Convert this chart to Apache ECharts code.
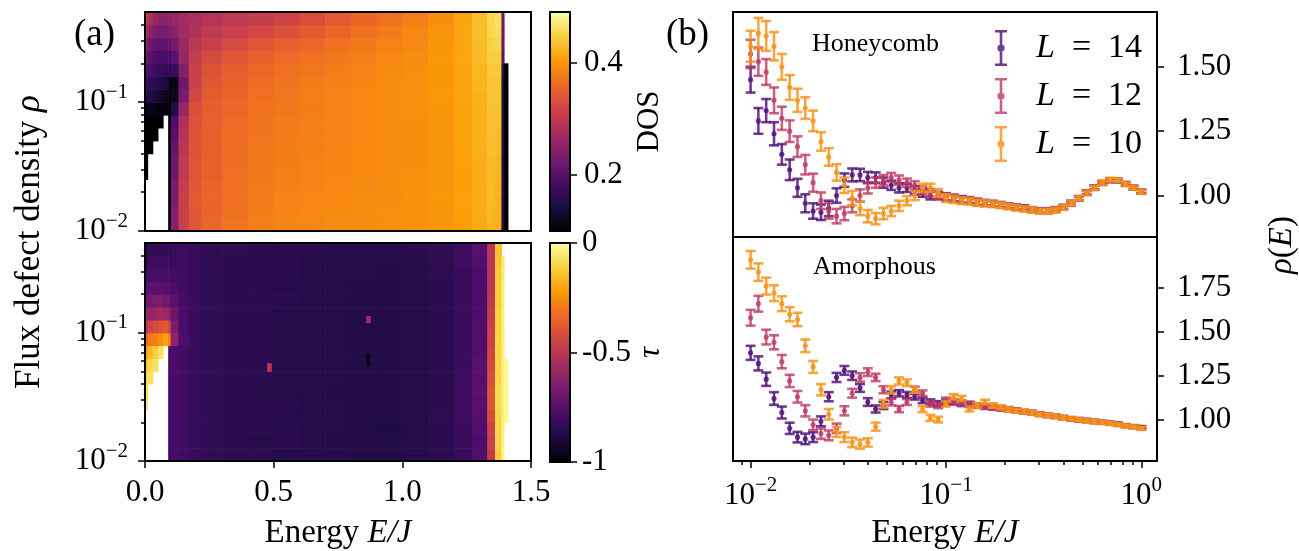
<!DOCTYPE html>
<html>
<head>
<meta charset="utf-8">
<script src="https://cdn.jsdelivr.net/npm/echarts@6/dist/echarts.min.js"></script>
<style>
  html, body { margin: 0; background: #fff; }
  #chart { width: 1299px; height: 551px; }
</style>
</head>
<body>
<div id="chart"></div>
<script>
const _ = null;

// ---- panel (a): heat maps, cells are [E bin] x [rho bin] ----
const energyEdges = [0, 0.01, 0.03, 0.05, 0.07, 0.09, 0.1, 0.13, 0.17, 0.22, 0.3, 0.4, 0.5, 0.6, 0.7, 0.8, 0.9, 1.0, 1.1, 1.2, 1.27, 1.33, 1.36, 1.385, 1.395, 1.41];
const rhoEdges = [0.01, 0.0126, 0.0158, 0.02, 0.0251, 0.0316, 0.0398, 0.0501, 0.0631, 0.0794, 0.1, 0.126, 0.158, 0.2, 0.251, 0.316, 0.398, 0.5];

// rows from low rho (bottom) to high rho (top), null = no data (white)
const dosGrid = [
  [_, _, _, _, _, 0.1, 0.24, 0.31, 0.34, 0.355, 0.37, 0.38, 0.385, 0.385, 0.39, 0.39, 0.392, 0.395, 0.398, 0.405, 0.415, 0.425, 0.42, 0.15, 0.1],
  [_, _, _, _, _, 0.1, 0.24, 0.31, 0.34, 0.355, 0.365, 0.378, 0.383, 0.386, 0.388, 0.39, 0.393, 0.394, 0.398, 0.406, 0.416, 0.426, 0.42, 0.15, 0.1],
  [_, _, _, _, _, 0.1, 0.23, 0.31, 0.342, 0.355, 0.366, 0.376, 0.384, 0.384, 0.387, 0.39, 0.39, 0.395, 0.4, 0.407, 0.416, 0.428, 0.422, 0.15, 0.1],
  [_, _, _, _, _, 0.1, 0.23, 0.305, 0.34, 0.354, 0.365, 0.375, 0.38, 0.383, 0.386, 0.388, 0.392, 0.393, 0.398, 0.406, 0.417, 0.428, 0.422, 0.15, 0.1],
  [0.1, _, _, _, _, 0.1, 0.22, 0.3, 0.338, 0.352, 0.364, 0.374, 0.38, 0.382, 0.385, 0.387, 0.39, 0.393, 0.398, 0.406, 0.418, 0.43, 0.424, 0.15, 0.1],
  [0.1, _, _, _, _, 0.1, 0.22, 0.3, 0.336, 0.352, 0.363, 0.372, 0.378, 0.382, 0.384, 0.387, 0.39, 0.392, 0.398, 0.407, 0.418, 0.43, 0.425, 0.15, 0.1],
  [0.1, 0.1, _, _, _, 0.1, 0.21, 0.295, 0.335, 0.35, 0.362, 0.372, 0.378, 0.38, 0.384, 0.386, 0.39, 0.392, 0.398, 0.407, 0.42, 0.432, 0.428, 0.15, 0.1],
  [0.1, 0.1, 0.1, _, _, 0.1, 0.2, 0.29, 0.334, 0.35, 0.362, 0.37, 0.376, 0.38, 0.383, 0.386, 0.39, 0.392, 0.398, 0.408, 0.42, 0.433, 0.43, 0.15, 0.1],
  [0.1, 0.1, 0.1, 0.1, _, 0.1, 0.19, 0.285, 0.333, 0.35, 0.36, 0.37, 0.376, 0.38, 0.383, 0.386, 0.39, 0.392, 0.398, 0.408, 0.42, 0.434, 0.432, 0.15, 0.1],
  [0.12, 0.115, 0.11, 0.105, 0.105, 0.1, 0.15, 0.26, 0.33, 0.348, 0.358, 0.368, 0.374, 0.378, 0.382, 0.386, 0.39, 0.393, 0.398, 0.408, 0.42, 0.435, 0.434, 0.15, 0.1],
  [0.16, 0.15, 0.14, 0.13, 0.12, 0.11, 0.12, 0.23, 0.32, 0.345, 0.356, 0.366, 0.372, 0.378, 0.382, 0.386, 0.39, 0.393, 0.4, 0.41, 0.422, 0.436, 0.436, 0.15, 0.1],
  [0.18, 0.165, 0.155, 0.15, 0.14, 0.11, 0.11, 0.22, 0.31, 0.34, 0.352, 0.362, 0.37, 0.376, 0.38, 0.385, 0.39, 0.393, 0.4, 0.41, 0.424, 0.438, 0.438, 0.15, 0.1],
  [0.2, 0.185, 0.175, 0.17, 0.165, 0.16, 0.17, 0.24, 0.31, 0.335, 0.348, 0.358, 0.366, 0.372, 0.378, 0.383, 0.388, 0.392, 0.4, 0.41, 0.425, 0.44, 0.44, 0.16, 0.1],
  [0.22, 0.2, 0.19, 0.185, 0.185, 0.185, 0.2, 0.26, 0.305, 0.325, 0.338, 0.35, 0.36, 0.366, 0.373, 0.38, 0.386, 0.39, 0.4, 0.412, 0.428, 0.444, 0.446, 0.2, _],
  [0.25, 0.22, 0.21, 0.205, 0.205, 0.21, 0.225, 0.265, 0.295, 0.31, 0.325, 0.338, 0.35, 0.358, 0.366, 0.374, 0.382, 0.388, 0.398, 0.412, 0.43, 0.448, 0.452, 0.22, _],
  [0.29, 0.25, 0.235, 0.23, 0.23, 0.235, 0.245, 0.27, 0.285, 0.3, 0.31, 0.32, 0.332, 0.345, 0.356, 0.366, 0.376, 0.385, 0.396, 0.412, 0.432, 0.452, 0.458, 0.22, _],
  [0.31, 0.28, 0.26, 0.25, 0.25, 0.25, 0.26, 0.27, 0.28, 0.29, 0.298, 0.306, 0.316, 0.328, 0.342, 0.356, 0.368, 0.38, 0.392, 0.41, 0.432, 0.455, 0.462, 0.22, _]
];

const tauGrid = [
  [_, _, _, _, _, -0.8, -0.78, -0.8, -0.82, -0.84, -0.85, -0.85, -0.86, -0.86, -0.86, -0.87, -0.87, -0.86, -0.85, -0.82, -0.76, -0.48, -0.12, -0.03, _],
  [_, _, _, _, _, -0.8, -0.78, -0.8, -0.82, -0.84, -0.85, -0.86, -0.85, -0.86, -0.87, -0.87, -0.87, -0.86, -0.85, -0.82, -0.77, -0.46, -0.1, -0.03, _],
  [_, _, _, _, _, -0.8, -0.78, -0.8, -0.83, -0.84, -0.85, -0.85, -0.85, -0.86, -0.86, -0.87, -0.88, -0.86, -0.85, -0.82, -0.76, -0.45, -0.1, -0.04, _],
  [_, _, _, _, _, -0.8, -0.78, -0.8, -0.82, -0.84, -0.85, -0.85, -0.86, -0.86, -0.86, -0.87, -0.87, -0.86, -0.84, -0.81, -0.75, -0.42, -0.1, -0.04, -0.02],
  [-0.06, _, _, _, _, -0.8, -0.78, -0.8, -0.82, -0.84, -0.85, -0.85, -0.85, -0.86, -0.86, -0.87, -0.87, -0.86, -0.85, -0.81, -0.75, -0.4, -0.09, -0.04, -0.02],
  [-0.07, _, _, _, _, -0.8, -0.78, -0.8, -0.82, -0.84, -0.85, -0.86, -0.86, -0.86, -0.87, -0.87, -0.87, -0.86, -0.85, -0.81, -0.74, -0.4, -0.09, -0.04, -0.02],
  [-0.09, -0.07, _, _, _, -0.8, -0.78, -0.8, -0.82, -0.84, -0.85, -0.85, -0.86, -0.86, -0.86, -0.87, -0.87, -0.86, -0.85, -0.81, -0.75, -0.42, -0.1, -0.04, -0.02],
  [-0.13, -0.09, -0.07, _, _, -0.79, -0.78, -0.8, -0.82, -0.84, -0.85, -0.85, -0.86, -0.86, -0.86, -0.87, -0.87, -0.86, -0.85, -0.82, -0.75, -0.43, -0.1, -0.04, -0.02],
  [-0.22, -0.16, -0.11, -0.07, _, -0.78, -0.78, -0.8, -0.82, -0.84, -0.85, -0.85, -0.86, -0.86, -0.86, -0.87, -0.87, -0.86, -0.85, -0.82, -0.76, -0.44, -0.1, -0.04, _],
  [-0.35, -0.3, -0.28, -0.25, -0.2, -0.3, -0.62, -0.77, -0.82, -0.84, -0.85, -0.85, -0.86, -0.86, -0.86, -0.87, -0.87, -0.86, -0.85, -0.82, -0.76, -0.45, -0.1, -0.04, _],
  [-0.5, -0.45, -0.42, -0.4, -0.38, -0.45, -0.66, -0.78, -0.82, -0.84, -0.85, -0.85, -0.86, -0.86, -0.86, -0.87, -0.87, -0.86, -0.85, -0.82, -0.76, -0.46, -0.11, -0.04, _],
  [-0.6, -0.6, -0.58, -0.56, -0.58, -0.62, -0.7, -0.78, -0.82, -0.84, -0.85, -0.85, -0.86, -0.86, -0.86, -0.87, -0.87, -0.86, -0.85, -0.82, -0.77, -0.47, -0.11, -0.04, _],
  [-0.7, -0.68, -0.66, -0.66, -0.68, -0.7, -0.74, -0.79, -0.82, -0.84, -0.85, -0.85, -0.85, -0.86, -0.86, -0.87, -0.87, -0.86, -0.85, -0.82, -0.77, -0.48, -0.12, -0.04, _],
  [-0.76, -0.74, -0.74, -0.74, -0.75, -0.76, -0.77, -0.8, -0.82, -0.84, -0.85, -0.85, -0.86, -0.86, -0.86, -0.87, -0.87, -0.86, -0.85, -0.82, -0.77, -0.5, -0.12, -0.04, _],
  [-0.8, -0.79, -0.78, -0.78, -0.78, -0.79, -0.79, -0.8, -0.82, -0.84, -0.85, -0.85, -0.85, -0.86, -0.86, -0.86, -0.87, -0.86, -0.84, -0.82, -0.77, -0.5, -0.12, -0.05, _],
  [-0.84, -0.81, -0.81, -0.81, -0.81, -0.81, -0.81, -0.81, -0.82, -0.84, -0.85, -0.85, -0.85, -0.86, -0.86, -0.86, -0.86, -0.86, -0.84, -0.81, -0.76, -0.5, -0.13, -0.05, _],
  [-0.86, -0.84, -0.84, -0.84, -0.84, -0.84, -0.82, -0.81, -0.82, -0.84, -0.84, -0.85, -0.85, -0.85, -0.86, -0.86, -0.86, -0.85, -0.84, -0.81, -0.75, -0.5, -0.14, _, _]
];

// isolated outlier pixels in the tau map: [E0, E1, rho0, rho1, tau]
const tauSpots = [
  [0.475, 0.49, 0.05, 0.058, -0.5],
  [0.86, 0.875, 0.12, 0.135, -0.55],
  [0.86, 0.872, 0.056, 0.068, -0.97]
];

const dosRange = [0.1, 0.49];
const tauRange = [-1, 0];
const dosTicks = [0.2, 0.4];
const tauTicks = [-1, -0.5, 0];
const rhoRange = [0.01, 0.5];
const rhoMajor = [0.01, 0.1];
const rhoMinor = [0.02, 0.03, 0.04, 0.05, 0.06, 0.07, 0.08, 0.09, 0.2, 0.3, 0.4];

// ---- panel (b): rho(E) with error bars ----
const energies = [0.01, 0.01096, 0.01202, 0.01318, 0.01445, 0.01585, 0.01738, 0.01905, 0.02089, 0.02291,
  0.02512, 0.02754, 0.0302, 0.03311, 0.03631, 0.03981, 0.04365, 0.04786, 0.05248, 0.05754,
  0.0631, 0.06918, 0.07586, 0.08318, 0.0912, 0.1, 0.1096, 0.1202, 0.1318, 0.1445,
  0.1585, 0.1738, 0.1905, 0.2089, 0.2291, 0.2512, 0.2754, 0.302, 0.3311, 0.3631,
  0.3981, 0.4365, 0.4786, 0.5248, 0.5754, 0.631, 0.6918, 0.7586, 0.8318, 0.912, 1.0];

const sizes = [14, 12, 10];

const honeyL14 = [1.45, 1.29, 1.33, 1.24, 1.16, 1.10, 1.03, 0.97, 0.94, 0.935, 0.95, 1.00, 1.06, 1.08, 1.08, 1.07, 1.07, 1.05, 1.04, 1.03,
  1.03, 1.02, 1.01, 1.00, 1.00, 0.995, 0.99, 0.985, 0.982, 0.975, 0.972, 0.968, 0.965, 0.96, 0.955, 0.952, 0.946, 0.942, 0.94, 0.946,
  0.956, 0.972, 0.99, 1.012, 1.032, 1.05, 1.06, 1.058, 1.045, 1.03, 1.015];
const honeyL12 = [1.55, 1.52, 1.48, 1.37, 1.30, 1.25, 1.19, 1.12, 1.05, 0.98, 0.94, 0.92, 0.93, 0.96, 1.00, 1.03, 1.05, 1.06, 1.07, 1.06,
  1.05, 1.04, 1.02, 1.01, 1.00, 0.995, 0.99, 0.984, 0.98, 0.976, 0.97, 0.968, 0.964, 0.958, 0.954, 0.95, 0.944, 0.94, 0.942, 0.945,
  0.954, 0.968, 0.988, 1.01, 1.03, 1.048, 1.058, 1.06, 1.046, 1.032, 1.016];
const honeyL10 = [1.58, 1.63, 1.62, 1.58, 1.50, 1.42, 1.37, 1.34, 1.29, 1.21, 1.15, 1.09, 1.04, 0.99, 0.95, 0.92, 0.91, 0.93, 0.94, 0.96,
  0.98, 1.00, 1.03, 1.03, 1.01, 0.99, 0.985, 0.98, 0.978, 0.972, 0.97, 0.966, 0.962, 0.958, 0.952, 0.948, 0.944, 0.94, 0.938, 0.944,
  0.954, 0.97, 0.99, 1.01, 1.03, 1.05, 1.062, 1.06, 1.044, 1.03, 1.014];

const honeyErr14 = [0.05, 0.05, 0.045, 0.045, 0.04, 0.04, 0.035, 0.035, 0.03, 0.03, 0.03, 0.028, 0.026, 0.025, 0.024, 0.022, 0.02, 0.02, 0.018, 0.018,
  0.016, 0.016, 0.015, 0.015, 0.014, 0.014, 0.013, 0.013, 0.012, 0.012, 0.011, 0.011, 0.01, 0.01, 0.01, 0.01, 0.009, 0.009, 0.009, 0.009,
  0.008, 0.008, 0.008, 0.008, 0.008, 0.007, 0.007, 0.007, 0.007, 0.007, 0.007];
const honeyErr12 = [0.055, 0.055, 0.05, 0.05, 0.045, 0.042, 0.04, 0.038, 0.035, 0.032, 0.03, 0.028, 0.026, 0.025, 0.024, 0.022, 0.02, 0.02, 0.018, 0.018,
  0.016, 0.016, 0.015, 0.015, 0.014, 0.014, 0.013, 0.013, 0.012, 0.012, 0.011, 0.011, 0.01, 0.01, 0.01, 0.01, 0.009, 0.009, 0.009, 0.009,
  0.008, 0.008, 0.008, 0.008, 0.008, 0.007, 0.007, 0.007, 0.007, 0.007, 0.007];
const honeyErr10 = [0.06, 0.06, 0.058, 0.055, 0.05, 0.048, 0.045, 0.042, 0.04, 0.036, 0.034, 0.032, 0.03, 0.028, 0.026, 0.024, 0.022, 0.022, 0.02, 0.02,
  0.018, 0.018, 0.016, 0.016, 0.015, 0.015, 0.014, 0.013, 0.013, 0.012, 0.012, 0.011, 0.011, 0.01, 0.01, 0.01, 0.01, 0.009, 0.009, 0.009,
  0.009, 0.008, 0.008, 0.008, 0.008, 0.008, 0.007, 0.007, 0.007, 0.007, 0.007];

const amorL14 = [1.38, 1.32, 1.23, 1.12, 1.04, 0.95, 0.90, 0.89, 0.90, 0.99, 1.13, 1.24, 1.28, 1.25, 1.18, 1.10, 1.06, 1.08, 1.14, 1.15,
  1.14, 1.13, 1.11, 1.10, 1.09, 1.10, 1.10, 1.09, 1.085, 1.08, 1.075, 1.07, 1.065, 1.06, 1.052, 1.045, 1.04, 1.032, 1.025, 1.02,
  1.012, 1.005, 1.0, 0.995, 0.99, 0.985, 0.98, 0.975, 0.966, 0.96, 0.955];
const amorL12 = [1.58, 1.66, 1.47, 1.44, 1.33, 1.22, 1.13, 1.05, 0.97, 0.92, 0.91, 0.95, 1.05, 1.15, 1.24, 1.27, 1.24, 1.17, 1.10, 1.06,
  1.10, 1.17, 1.15, 1.09, 1.08, 1.11, 1.10, 1.095, 1.09, 1.08, 1.072, 1.068, 1.062, 1.058, 1.05, 1.044, 1.038, 1.03, 1.024, 1.018,
  1.01, 1.004, 0.998, 0.994, 0.988, 0.984, 0.978, 0.972, 0.965, 0.96, 0.952];
const amorL10 = [1.91, 1.84, 1.76, 1.72, 1.66, 1.60, 1.57, 1.42, 1.30, 1.17, 1.03, 0.93, 0.90, 0.87, 0.86, 0.87, 0.96, 1.09, 1.17, 1.22,
  1.21, 1.17, 1.06, 1.01, 1.00, 1.09, 1.13, 1.12, 1.06, 1.08, 1.10, 1.08, 1.07, 1.058, 1.05, 1.046, 1.038, 1.03, 1.025, 1.02,
  1.01, 1.005, 1.0, 0.994, 0.99, 0.984, 0.978, 0.972, 0.964, 0.958, 0.95];

const amorErr14 = [0.04, 0.04, 0.038, 0.036, 0.034, 0.032, 0.03, 0.03, 0.028, 0.028, 0.026, 0.026, 0.025, 0.024, 0.022, 0.022, 0.02, 0.02, 0.019, 0.018,
  0.017, 0.016, 0.016, 0.015, 0.015, 0.014, 0.014, 0.013, 0.013, 0.012, 0.012, 0.012, 0.011, 0.011, 0.011, 0.01, 0.01, 0.01, 0.01, 0.01,
  0.009, 0.009, 0.009, 0.009, 0.009, 0.008, 0.008, 0.008, 0.008, 0.008, 0.008];
const amorErr12 = [0.045, 0.045, 0.042, 0.04, 0.038, 0.035, 0.033, 0.032, 0.03, 0.03, 0.028, 0.027, 0.026, 0.025, 0.024, 0.022, 0.021, 0.02, 0.019, 0.018,
  0.017, 0.017, 0.016, 0.016, 0.015, 0.015, 0.014, 0.014, 0.013, 0.013, 0.012, 0.012, 0.011, 0.011, 0.011, 0.01, 0.01, 0.01, 0.01, 0.01,
  0.009, 0.009, 0.009, 0.009, 0.009, 0.008, 0.008, 0.008, 0.008, 0.008, 0.008];
const amorErr10 = [0.05, 0.05, 0.048, 0.045, 0.042, 0.04, 0.038, 0.036, 0.034, 0.032, 0.03, 0.029, 0.028, 0.027, 0.026, 0.024, 0.023, 0.022, 0.021, 0.02,
  0.019, 0.018, 0.018, 0.017, 0.016, 0.016, 0.015, 0.015, 0.014, 0.014, 0.013, 0.013, 0.012, 0.012, 0.011, 0.011, 0.011, 0.01, 0.01, 0.01,
  0.01, 0.009, 0.009, 0.009, 0.009, 0.009, 0.008, 0.008, 0.008, 0.008, 0.008];

const energyMajor = [0.01, 0.1, 1];
const energyMinor = [0.009, 0.02, 0.03, 0.04, 0.05, 0.06, 0.07, 0.08, 0.09, 0.2, 0.3, 0.4, 0.5, 0.6, 0.7, 0.8, 0.9];
const energyRange = [0.008128, 1.2023];
const honeyRange = [0.839, 1.713];
const amorRange = [0.764, 2.04];
const honeyTicks = [1.0, 1.25, 1.5];
const amorTicks = [1.0, 1.25, 1.5, 1.75];

const inferno = ['#000004', '#1b0c41', '#4a0c6b', '#781c6d', '#a52c60', '#cf4446', '#ed6925', '#fb9b06', '#f7d13d', '#fcffa4'];
const lineColors = ['rgba(80, 18, 123, 0.82)', 'rgba(190, 55, 98, 0.78)', 'rgba(247, 146, 25, 0.82)'];

const FONT = '"Liberation Serif", "DejaVu Serif", serif';
const black = '#000';
const tickLine = { color: black, width: 1.5 };
const noLine = { show: false, onZero: false };

function cells(grid) {
  const out = [];
  grid.forEach((row, r) => {
    row.forEach((v, c) => {
      if (v !== null) out.push([energyEdges[c], energyEdges[c + 1], rhoEdges[r], rhoEdges[r + 1], v]);
    });
  });
  return out;
}

function renderCell(params, api) {
  const a = api.coord([api.value(0), api.value(2)]);
  const b = api.coord([api.value(1), api.value(3)]);
  return {
    type: 'rect',
    shape: { x: a[0], y: b[1], width: b[0] - a[0] + 0.6, height: a[1] - b[1] + 0.6 },
    style: { fill: api.visual('color') }
  };
}

function renderBar(params, api) {
  const a = api.coord([api.value(0), api.value(2)]);
  const b = api.coord([api.value(1), api.value(3)]);
  const stops = inferno.map((c, i) => ({ offset: i / (inferno.length - 1), color: c }));
  return {
    type: 'rect',
    shape: { x: a[0], y: b[1], width: b[0] - a[0], height: a[1] - b[1] },
    style: { fill: new echarts.graphic.LinearGradient(0, 1, 0, 0, stops) }
  };
}

function renderErrorBar(params, api) {
  const x = api.value(0);
  const y = api.value(1);
  const e = api.value(2);
  const hi = api.coord([x, y + e]);
  const lo = api.coord([x, y - e]);
  const mid = api.coord([x, y]);
  const color = api.visual('color');
  const s = { stroke: color, lineWidth: 2.6, fill: null };
  const hw = 5;
  return {
    type: 'group',
    children: [
      { type: 'line', shape: { x1: hi[0], y1: hi[1], x2: lo[0], y2: lo[1] }, style: s },
      { type: 'line', shape: { x1: hi[0] - hw, y1: hi[1], x2: hi[0] + hw, y2: hi[1] }, style: s },
      { type: 'line', shape: { x1: lo[0] - hw, y1: lo[1], x2: lo[0] + hw, y2: lo[1] }, style: s },
      { type: 'circle', shape: { cx: mid[0], cy: mid[1], r: 2.6 }, style: { fill: color } }
    ]
  };
}

function powLabel(v) {
  const e = Math.round(v);
  return '{b|10}{s|' + (e < 0 ? '\u2212' + (-e) : e) + '}';
}

const powRich = {
  b: { fontSize: 31, fontFamily: FONT, color: black },
  s: { fontSize: 21, fontFamily: FONT, color: black, padding: [0, 0, 20, 0] }
};
const nameRich = {
  r: { fontSize: 33, fontFamily: FONT, color: black },
  i: { fontSize: 33, fontFamily: FONT, color: black, fontStyle: 'italic' }
};
const flexRich = {
  r: { fontSize: 35, fontFamily: FONT, color: black },
  i: { fontSize: 35, fontFamily: FONT, color: black, fontStyle: 'italic' }
};

const hidden = { show: false };
const gridBox = { show: true, borderColor: black, borderWidth: 2, backgroundColor: 'transparent', z: 10 };

function hiddenAxis(grid, type, range) {
  return { gridIndex: grid, type: type, min: range[0], max: range[1], show: false, axisLine: noLine };
}
// tick/label axis in log10 units laid over a log data axis
function logTickAxis(grid, position, range, values, len, withLabels, extra) {
  return Object.assign({
    gridIndex: grid, type: 'value', position: position,
    min: Math.log10(range[0]), max: Math.log10(range[1]),
    axisLine: noLine, splitLine: hidden,
    axisTick: { customValues: values.map(Math.log10), length: len, lineStyle: tickLine },
    axisLabel: withLabels
      ? { customValues: values.map(Math.log10), formatter: powLabel, rich: powRich, margin: position === 'left' ? 17 : 14 }
      : { show: false }
  }, extra || {});
}
function valueTickAxis(grid, range, ticks, fmt, margin, extra) {
  return Object.assign({
    gridIndex: grid, type: 'value', position: 'right', min: range[0], max: range[1],
    axisLine: noLine, splitLine: hidden,
    axisTick: { customValues: ticks, length: 7, lineStyle: tickLine },
    axisLabel: { customValues: ticks, formatter: fmt, fontSize: 31, fontFamily: FONT, color: black, margin: margin }
  }, extra || {});
}

function errorSeries(name, color, xIdx, yIdx, vals, errs) {
  return {
    type: 'custom', name: name, xAxisIndex: xIdx, yAxisIndex: yIdx, silent: true,
    itemStyle: { color: color },
    encode: { x: 0, y: 1 },
    renderItem: renderErrorBar,
    data: energies.map((x, i) => [x, vals[i], errs[i]])
  };
}

const names = sizes.map(s => 'L' + s);
const honey = [honeyL14, honeyL12, honeyL10];
const honeyErr = [honeyErr14, honeyErr12, honeyErr10];
const amor = [amorL14, amorL12, amorL10];
const amorErr = [amorErr14, amorErr12, amorErr10];

const errorIcon = 'path://M0,0H12V2.6H0Z M4.7,0H7.3V36H4.7Z M0,33.4H12V36H0Z M6,14.4A3.6,3.6,0,1,1,5.99,14.4Z';
const energyName = {
  name: '{r|Energy }{i|E/J}', nameLocation: 'middle', nameGap: 56, nameTextStyle: { rich: nameRich }
};

const option = {
  animation: false,
  textStyle: { fontFamily: FONT, color: black },
  grid: [
    Object.assign({ left: 145, top: 12, width: 386, height: 219 }, gridBox),
    Object.assign({ left: 145, top: 243, width: 386, height: 219 }, gridBox),
    Object.assign({ left: 550, top: 12, width: 20, height: 219 }, gridBox),
    Object.assign({ left: 550, top: 243, width: 20, height: 219 }, gridBox),
    Object.assign({ left: 733, top: 12, width: 424, height: 225 }, gridBox),
    Object.assign({ left: 733, top: 237, width: 424, height: 225 }, gridBox)
  ],
  xAxis: [
    hiddenAxis(0, 'value', [0, 1.5]),
    Object.assign({
      gridIndex: 1, type: 'value', position: 'bottom', min: 0, max: 1.5, interval: 0.5,
      axisLine: noLine, splitLine: hidden,
      axisTick: { length: 7, lineStyle: tickLine },
      axisLabel: { fontSize: 31, fontFamily: FONT, color: black, margin: 16, formatter: v => v.toFixed(1) }
    }, energyName),
    hiddenAxis(2, 'value', [0, 1]),
    hiddenAxis(3, 'value', [0, 1]),
    Object.assign(hiddenAxis(4, 'log', energyRange), { position: 'bottom' }),
    Object.assign(hiddenAxis(5, 'log', energyRange), { position: 'bottom' }),
    logTickAxis(5, 'bottom', energyRange, energyMajor, 7, true, energyName),
    logTickAxis(5, 'bottom', energyRange, energyMinor, 4, false)
  ],
  yAxis: [
    Object.assign(hiddenAxis(0, 'log', rhoRange), { position: 'left' }),
    logTickAxis(0, 'left', rhoRange, rhoMajor, 7, true),
    logTickAxis(0, 'left', rhoRange, rhoMinor, 4, false),
    Object.assign(hiddenAxis(1, 'log', rhoRange), { position: 'left' }),
    logTickAxis(1, 'left', rhoRange, rhoMajor, 7, true),
    logTickAxis(1, 'left', rhoRange, rhoMinor, 4, false),
    valueTickAxis(2, dosRange, dosTicks, v => v.toFixed(1), 14, {
      name: 'DOS', nameLocation: 'middle', nameGap: 64,
      nameTextStyle: { fontSize: 31, fontFamily: FONT, color: black }
    }),
    valueTickAxis(3, tauRange, tauTicks, v => String(v), 12, {
      name: 'τ', nameLocation: 'middle', nameGap: 54,
      nameTextStyle: { fontSize: 31, fontFamily: FONT, color: black, fontStyle: 'italic' }
    }),
    valueTickAxis(4, honeyRange, honeyTicks, v => v.toFixed(2), 20),
    valueTickAxis(5, amorRange, amorTicks, v => v.toFixed(2), 20)
  ],
  visualMap: [
    { type: 'continuous', show: false, seriesIndex: 0, dimension: 4, min: dosRange[0], max: dosRange[1], inRange: { color: inferno } },
    { type: 'continuous', show: false, seriesIndex: 1, dimension: 4, min: tauRange[0], max: tauRange[1], inRange: { color: inferno } }
  ],
  legend: {
    data: names,
    orient: 'vertical', left: 990, top: 25,
    itemWidth: 12, itemHeight: 36, itemGap: 12,
    icon: errorIcon, selectedMode: false,
    formatter: name => '{i|L}{t|\u2002=\u2002' + name.slice(1) + '}',
    textStyle: {
      rich: {
        i: { fontSize: 34, fontFamily: FONT, color: black, fontStyle: 'italic', padding: [0, 0, 0, 24] },
        t: { fontSize: 34, fontFamily: FONT, color: black }
      }
    }
  },
  series: [
    { type: 'custom', xAxisIndex: 0, yAxisIndex: 0, silent: true, clip: true, encode: { x: [0, 1], y: [2, 3] }, renderItem: renderCell, data: cells(dosGrid) },
    { type: 'custom', xAxisIndex: 1, yAxisIndex: 3, silent: true, clip: true, encode: { x: [0, 1], y: [2, 3] }, renderItem: renderCell, data: cells(tauGrid).concat(tauSpots) },
    { type: 'custom', xAxisIndex: 2, yAxisIndex: 6, silent: true, encode: { x: [0, 1], y: [2, 3] }, renderItem: renderBar, data: [[0, 1, dosRange[0], dosRange[1]]] },
    { type: 'custom', xAxisIndex: 3, yAxisIndex: 7, silent: true, encode: { x: [0, 1], y: [2, 3] }, renderItem: renderBar, data: [[0, 1, tauRange[0], tauRange[1]]] }
  ]
    .concat(names.map((n, i) => errorSeries(n, lineColors[i], 4, 8, honey[i], honeyErr[i])))
    .concat(names.map((n, i) => errorSeries(n, lineColors[i], 5, 9, amor[i], amorErr[i]))),
  graphic: [
    { type: 'text', left: 74, top: 17, style: { text: '(a)', font: '37px ' + FONT, fill: black } },
    { type: 'text', left: 666, top: 17, style: { text: '(b)', font: '37px ' + FONT, fill: black } },
    {
      type: 'text', x: 30, y: 242, rotation: Math.PI / 2,
      style: { text: '{r|Flux defect density }{i|ρ}', align: 'center', verticalAlign: 'middle', rich: flexRich }
    },
    {
      type: 'text', x: 1282, y: 245, rotation: Math.PI / 2,
      style: { text: '{i|ρ}{r|(}{i|E}{r|)}', align: 'center', verticalAlign: 'middle', rich: nameRich }
    },
    { type: 'text', left: 812, top: 31, style: { text: 'Honeycomb', font: '26px ' + FONT, fill: black } },
    { type: 'text', left: 813, top: 254, style: { text: 'Amorphous', font: '26px ' + FONT, fill: black } }
  ]
};

const chart = echarts.init(document.getElementById('chart'), null, { renderer: 'canvas' });
chart.setOption(option);
</script>
</body>
</html>
